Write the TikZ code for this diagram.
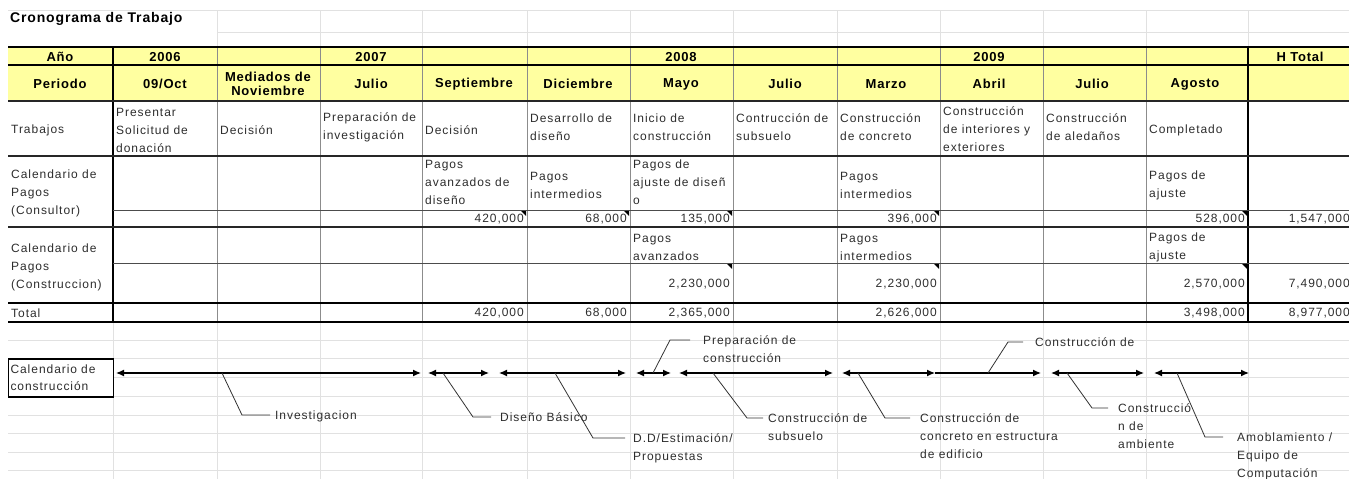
\documentclass[tikz,border=0pt]{standalone}
\usepackage{fontspec}
\setmainfont{Liberation Sans}
\newfontfamily\cellfont{Liberation Sans}[LetterSpace=8]
\newfontfamily\headfont{Liberation Sans}[LetterSpace=6]
\usetikzlibrary{arrows.meta}

\definecolor{hdryellow}{RGB}{255,255,160}
\definecolor{gridfaint}{RGB}{225,225,225}
\definecolor{ink}{RGB}{45,45,45}

\tikzset{
  hdr/.style={font={\headfont\bfseries\fontsize{13}{14}\selectfont}, align=center, inner sep=0pt, text=black},
  ttl/.style={font={\headfont\bfseries\fontsize{14}{15}\selectfont}, anchor=west, inner sep=0pt},
  txt/.style={font={\cellfont\fontsize{12}{18}\selectfont}, align=left, anchor=west, inner sep=0pt, text=ink},
  num/.style={font={\cellfont\fontsize{12}{14}\selectfont}, anchor=east, inner sep=0pt, text=ink},
  lbl/.style={font={\cellfont\fontsize{12}{18}\selectfont}, align=left, anchor=north west, inner sep=0pt, text=ink},
  heavyline/.style={line width=2pt, black},
  midline/.style={line width=1.1pt, black!85},
  lightline/.style={line width=0.9pt, black!70},
  colline/.style={line width=0.8pt, black!45},
  faintline/.style={line width=0.6pt, gridfaint},
  cmark/.style={fill=black},
  tip/.tip={Latex[length=8pt,width=7pt]},
  tlboth/.style={line width=1.3pt, black, tip-tip},
  tlend/.style={line width=1.3pt, black, -tip},
  leader/.style={line width=0.8pt, black!80},
  calbox/.style={draw=black, line width=1.8pt, fill=white, text width=101pt, minimum height=38pt,
                 inner xsep=2pt, inner ysep=0pt, align=left, font={\cellfont\fontsize{12}{17}\selectfont}, text=ink},
}

\begin{document}
\begin{tikzpicture}[x=1pt,y=-1pt]
\useasboundingbox (0,0) rectangle (1349,479);
\begin{scope}
\clip (0,0) rectangle (1349,479);

% background spreadsheet grid
\draw[faintline] (8,10) -- (1356,10);
\draw[faintline] (217,32) -- (1356,32);
\foreach \x in {217,320,422,527,630,733,837,940,1043,1146,1248}
  \draw[faintline] (\x,10) -- (\x,47);
\foreach \y in {340,358,377,396,415,433,452,470}
  \draw[faintline] (8,\y) -- (1356,\y);
\foreach \x in {113,217,320,422,527,630,733,837,940,1043,1146,1248}
  \draw[faintline] (\x,322) -- (\x,479);

% header band
\fill[hdryellow] (8,47) rectangle (1356,101);

% column rules
\foreach \x in {217,320,422,527,630,733,837,940,1043,1146}
  \draw[colline] (\x,47) -- (\x,322);
\draw[heavyline] (113,47) -- (113,322);
\draw[heavyline] (1248,47) -- (1248,322);

% row rules
\draw[heavyline] (8,47) -- (1356,47);
\draw[heavyline] (8,65) -- (1356,65);
\draw[midline] (8,101) -- (1356,101);
\draw[midline] (8,156) -- (1356,156);
\draw[lightline] (113,210) -- (1356,210);
\draw[line width=1.6pt, black!85] (8,227) -- (1356,227);
\draw[lightline] (113,263) -- (1356,263);
\draw[heavyline] (8,303) -- (1356,303);
\draw[heavyline] (8,322) -- (1356,322);

% title
\node[ttl] (title) at (10,19) {Cronograma de Trabajo};

% year row
\node[hdr] (yAno)  at (60,57)   {Año};
\node[hdr] (y2006) at (165,57)  {2006};
\node[hdr] (y2007) at (371,57)  {2007};
\node[hdr] (y2008) at (681,57)  {2008};
\node[hdr] (y2009) at (989,57)  {2009};
\node[hdr] (yTot)  at (1300,57) {H Total};

% period row
\node[hdr] (pLbl) at (60,84)   {Periodo};
\node[hdr] (p1)   at (165,84)  {09/Oct};
\node[hdr] (p2)   at (268,84)  {Mediados de\\Noviembre};
\node[hdr] (p3)   at (371,84)  {Julio};
\node[hdr] (p4)   at (474,84)  {Septiembre};
\node[hdr] (p5)   at (578,84)  {Diciembre};
\node[hdr] (p6)   at (681,84)  {Mayo};
\node[hdr] (p7)   at (785,84)  {Julio};
\node[hdr] (p8)   at (886,84)  {Marzo};
\node[hdr] (p9)   at (989,84)  {Abril};
\node[hdr] (p10)  at (1092,84) {Julio};
\node[hdr] (p11)  at (1195,84) {Agosto};

% tasks row
\node[txt] (wLbl) at (11,130)   {Trabajos};
\node[txt] (w1)   at (116,130)  {Presentar\\Solicitud de\\donación};
\node[txt] (w2)   at (220,130)  {Decisión};
\node[txt] (w3)   at (323,127)  {Preparación de\\investigación};
\node[txt] (w4)   at (425,130)  {Decisión};
\node[txt] (w5)   at (530,127)  {Desarrollo de\\diseño};
\node[txt] (w6)   at (633,127)  {Inicio de\\construcción};
\node[txt] (w7)   at (736,127)  {Contrucción de\\subsuelo};
\node[txt] (w8)   at (840,127)  {Construcción\\de concreto};
\node[txt] (w9)   at (943,129)  {Construcción\\de interiores y\\exteriores};
\node[txt] (w10)  at (1046,127) {Construcción\\de aledaños};
\node[txt] (w11)  at (1149,130) {Completado};

% consultant payments
\node[txt] (cLbl) at (11,193)  {Calendario de\\Pagos\\(Consultor)};
\node[txt] (c1)   at (425,182) {Pagos\\avanzados de\\diseño};
\node[txt] (c2)   at (530,185) {Pagos\\intermedios};
\node[txt] (c3)   at (633,182) {Pagos de\\ajuste de diseñ\\o};
\node[txt] (c4)   at (840,185) {Pagos\\intermedios};
\node[txt] (c5)   at (1149,185) {Pagos de\\ajuste};
\node[num] (cv1) at (524,219)  {420,000};
\node[num] (cv2) at (627,219)  {68,000};
\node[num] (cv3) at (730,219)  {135,000};
\node[num] (cv4) at (937,219)  {396,000};
\node[num] (cv5) at (1245,219) {528,000};
\node[num] (cvT) at (1350,219) {1,547,000};

% construction payments
\node[txt] (kLbl) at (11,267)  {Calendario de\\Pagos\\(Construccion)};
\node[txt] (k1)   at (633,247) {Pagos\\avanzados};
\node[txt] (k2)   at (840,247) {Pagos\\intermedios};
\node[txt] (k3)   at (1149,247) {Pagos de\\ajuste};
\node[num] (kv1) at (730,284)  {2,230,000};
\node[num] (kv2) at (937,284)  {2,230,000};
\node[num] (kv3) at (1245,284) {2,570,000};
\node[num] (kvT) at (1350,284) {7,490,000};

% totals
\node[txt] (tLbl) at (11,313)  {Total};
\node[num] (tv1) at (524,313)  {420,000};
\node[num] (tv2) at (627,313)  {68,000};
\node[num] (tv3) at (730,313)  {2,365,000};
\node[num] (tv4) at (937,313)  {2,626,000};
\node[num] (tv5) at (1245,313) {3,498,000};
\node[num] (tvT) at (1350,313) {8,977,000};

% comment indicators
\foreach \x/\y in {527/210,630/210,733/210,940/210,1248/210,733/263,940/263,1248/263}
  \fill[cmark] (\x-6,\y+1) -- (\x-1,\y+1) -- (\x-1,\y+6) -- cycle;

% construction schedule
\node[calbox] (cal) at (61,378) {Calendario de\\construcción};

\coordinate (t0)  at (116,373);
\coordinate (t1)  at (421,373);
\coordinate (t2)  at (428,373);
\coordinate (t3)  at (489,373);
\coordinate (t4)  at (499,373);
\coordinate (t5)  at (626,373);
\coordinate (t6)  at (636,373);
\coordinate (t7)  at (671,373);
\coordinate (t8)  at (679,373);
\coordinate (t9)  at (833,373);
\coordinate (t10) at (842,373);
\coordinate (t11) at (935,373);
\coordinate (t12) at (1041,373);
\coordinate (t13) at (1051,373);
\coordinate (t14) at (1144,373);
\coordinate (t15) at (1154,373);
\coordinate (t16) at (1249,373);

\draw[tlboth] (t0) -- (t1);
\draw[tlboth] (t2) -- (t3);
\draw[tlboth] (t4) -- (t5);
\draw[tlboth] (t6) -- (t7);
\draw[tlboth] (t8) -- (t9);
\draw[tlboth] (t10) -- (t11);
\draw[tlend]  (t11) -- (t12);
\draw[tlboth] (t13) -- (t14);
\draw[tlboth] (t15) -- (t16);

% phase labels with leader lines
\coordinate (a1) at (222,373);  \coordinate (b1) at (242,415);  \coordinate (e1) at (270,415);
\node[lbl] (l1) at (275,407) {\strut Investigacion};
\draw[leader] (a1) -- (b1) -- (e1);

\coordinate (a2) at (443,373);  \coordinate (b2) at (473,417);  \coordinate (e2) at (491,417);
\node[lbl] (l2) at (500,409) {\strut Diseño Básico};
\draw[leader] (a2) -- (b2) -- (e2);

\coordinate (a3) at (555,373);  \coordinate (b3) at (593,438);  \coordinate (e3) at (625,438);
\node[lbl] (l3) at (633,430) {\strut D.D/Estimación/\\Propuestas};
\draw[leader] (a3) -- (b3) -- (e3);

\coordinate (a4) at (653,373);  \coordinate (b4) at (670,340);  \coordinate (e4) at (690,340);
\node[lbl] (l4) at (703,332) {\strut Preparación de\\construcción};
\draw[leader] (a4) -- (b4) -- (e4);

\coordinate (a5) at (713,373);  \coordinate (b5) at (747,418);  \coordinate (e5) at (763,418);
\node[lbl] (l5) at (768,410) {\strut Construcción de\\subsuelo};
\draw[leader] (a5) -- (b5) -- (e5);

\coordinate (a6) at (858,373);  \coordinate (b6) at (885,418);  \coordinate (e6) at (910,418);
\node[lbl] (l6) at (920,410) {\strut Construcción de\\concreto en estructura\\de edificio};
\draw[leader] (a6) -- (b6) -- (e6);

\coordinate (a7) at (988,373);  \coordinate (b7) at (1008,342); \coordinate (e7) at (1023,342);
\node[lbl] (l7) at (1035,334) {\strut Construcción de};
\draw[leader] (a7) -- (b7) -- (e7);

\coordinate (a8) at (1067,373); \coordinate (b8) at (1092,408); \coordinate (e8) at (1108,408);
\node[lbl] (l8) at (1118,400) {\strut Construcció\\n de\\ambiente};
\draw[leader] (a8) -- (b8) -- (e8);

\coordinate (a9) at (1177,373); \coordinate (b9) at (1205,437); \coordinate (e9) at (1223,437);
\node[lbl] (l9) at (1237,429) {\strut Amoblamiento /\\Equipo de\\Computación};
\draw[leader] (a9) -- (b9) -- (e9);
\end{scope}
\end{tikzpicture}
\end{document}
